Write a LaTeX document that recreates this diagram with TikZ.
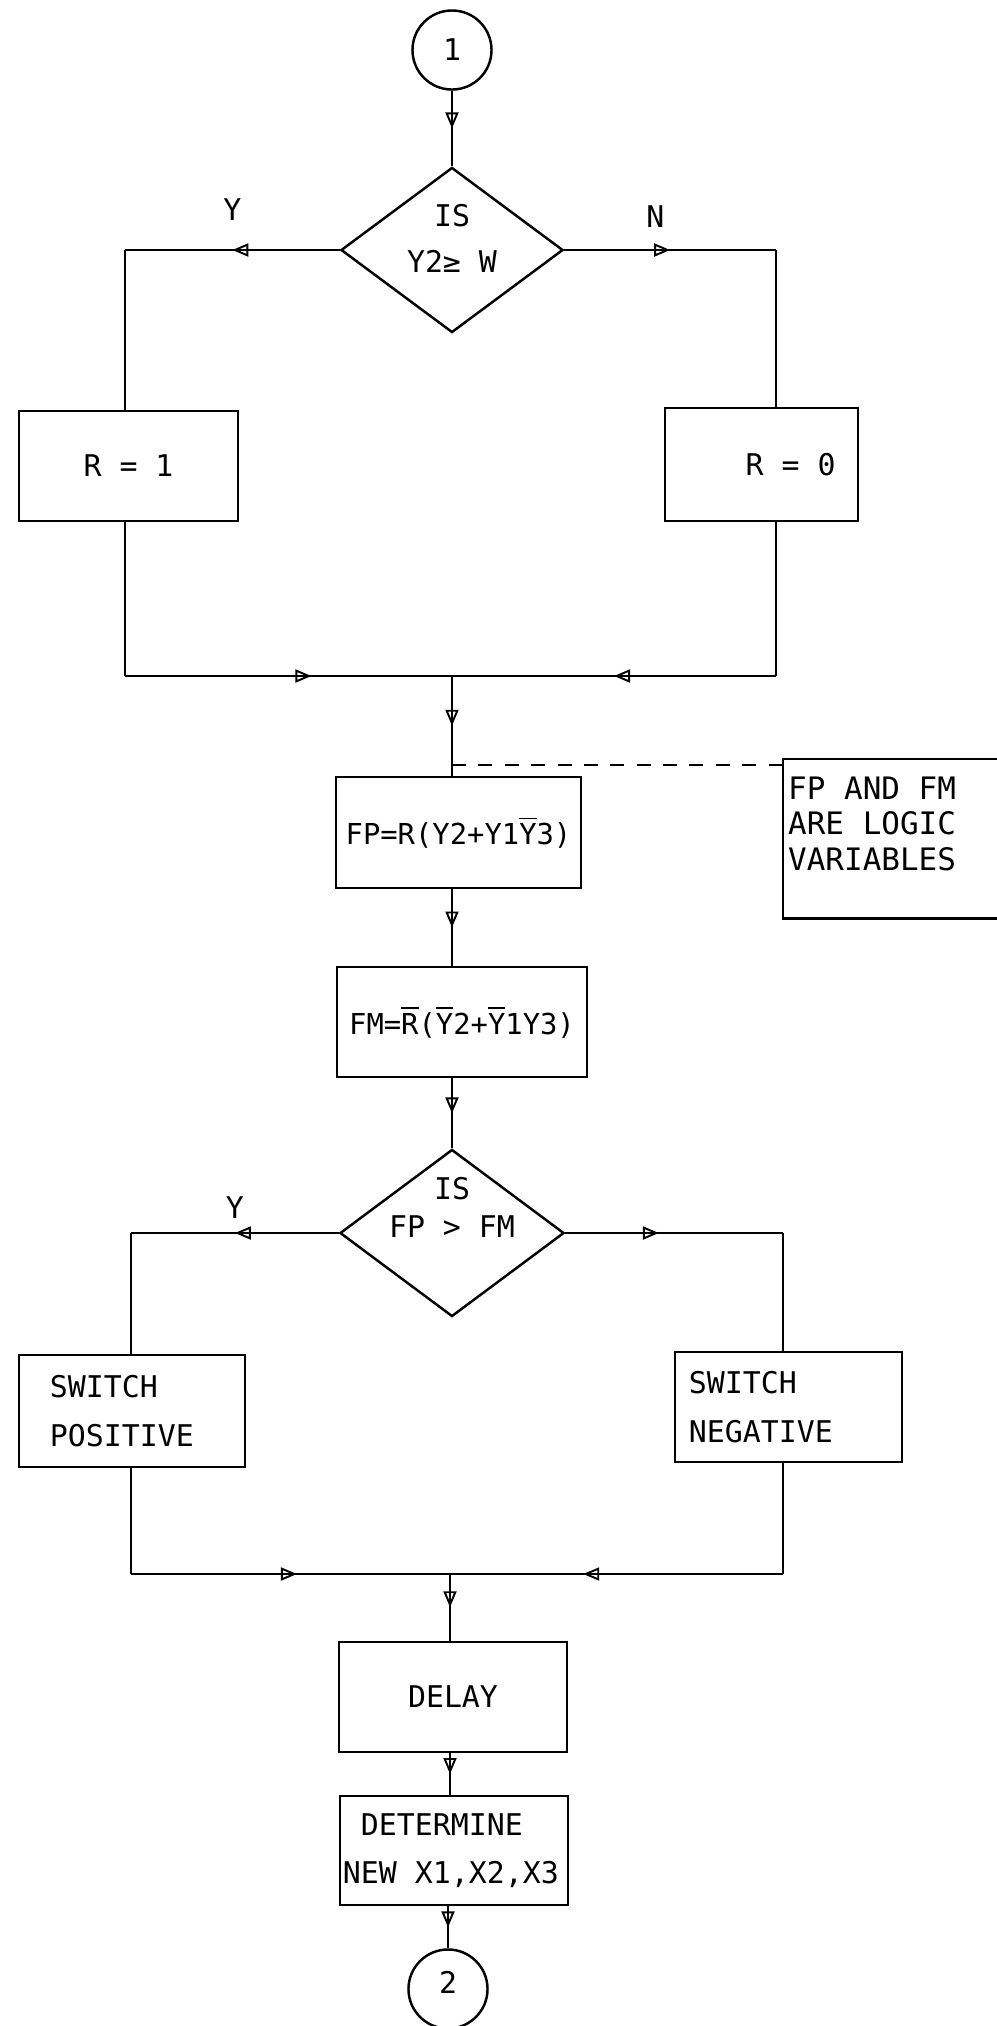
\documentclass[tikz,border=0pt]{standalone}
\usepackage{fontspec}
\setmonofont{DejaVu Sans Mono}
\usetikzlibrary{arrows.meta, positioning, shapes.geometric, decorations.markings}
\newcommand{\chartfont}{\ttfamily\fontsize{8.5}{13.8}\selectfont}
\newcommand{\formulafont}{\ttfamily\fontsize{8.2}{10}\selectfont}
\newcommand{\notefont}{\ttfamily\fontsize{8.8}{10.2}\selectfont}
\newcommand{\ovl}[1]{$\overline{\mbox{#1}}$}
\newcommand{\inset}[2]{\makebox[0pt]{\raisebox{#1}[0pt][0pt]{\begin{tabular}{@{}c@{}}#2\end{tabular}}}}

\begin{document}
\begin{tikzpicture}[x=0.01cm, y=-0.01cm,
    box/.style={draw, line width=0.8pt, inner ysep=0pt, font=\chartfont, execute at begin node={\spaceskip=0pt\xspaceskip=0pt}},
    decision/.style={draw, diamond, line width=0.7pt, inner sep=0pt, minimum width=2.22cm, minimum height=1.65cm, font=\chartfont},
    connector/.style={draw, circle, line width=0.7pt, inner sep=0pt, minimum size=0.79cm, font=\chartfont},
    wire/.style={line width=0.55pt},
    arr/.style={wire, postaction={decorate}, decoration={markings, mark=at position #1 with {\arrow{Triangle[open, length=1.6mm, width=1.3mm, line width=0.55pt]}}}},
    arr/.default=0.5,
    lbl/.style={font=\chartfont, inner sep=1pt},
]
\useasboundingbox (0,0) rectangle (996,2026);

% first decision
\node[connector] (start) at (452,50) {1};
\node[decision] (q1) at (452,250) {\inset{0.3mm}{IS\\[-0.7pt]Y2≥ W}};
\node[box, minimum width=2.19cm, minimum height=1.10cm] (yes1) at (128.5,466) {R = 1};
\node[box, minimum width=1.93cm, minimum height=1.13cm] (no1) at (761.5,464.5) {\hspace*{0.58cm}R = 0};

\coordinate (c1l) at (125,250);
\coordinate (c1r) at (776,250);
\coordinate (m1) at (452,676);
\coordinate (tap) at (452,765);

% logic variables
\node[box, minimum width=2.45cm, minimum height=1.11cm, inner xsep=0pt, font=\formulafont] (fp) at (458.5,832.5) {FP=R(Y2+Y1\ovl{Y}3)};
\node[box, minimum width=2.50cm, minimum height=1.10cm, inner xsep=0pt, font=\formulafont] (fm) at (462,1022) {FM=\ovl{R}(\ovl{Y}2+\ovl{Y}1Y3)};
\node[box, line width=0.7pt, anchor=north west, minimum width=3cm, minimum height=1.59cm, text width=2.9cm, text depth=29pt, inner xsep=0.05cm, align=left, font=\notefont] (note) at (782,758) {FP AND FM\\ARE LOGIC\\VARIABLES};

% second decision
\node[decision, minimum width=2.24cm, minimum height=1.67cm] (q2) at (452,1233) {\inset{1.7mm}{IS\\[-3pt]FP > FM}};
\node[box, minimum width=2.26cm, minimum height=1.12cm, text width=1.64cm, inner xsep=0.31cm, align=left] (pos) at (132,1411) {SWITCH\\POSITIVE};
\node[box, minimum width=2.27cm, minimum height=1.10cm, text width=1.99cm, inner xsep=0.14cm, align=left] (neg) at (788.5,1407) {SWITCH\\NEGATIVE};

\coordinate (c2l) at (131,1233);
\coordinate (c2r) at (783,1233);
\coordinate (m2) at (450,1574);

\node[box, minimum width=2.28cm, minimum height=1.10cm] (delay) at (453,1697) {DELAY};
\node[box, minimum width=2.28cm, minimum height=1.09cm, text width=2.22cm, inner xsep=0.03cm, align=left] (det) at (454,1850.5) {\phantom{N}DETERMINE\\NEW X1,X2,X3};
\node[connector] (stop) at (448,1989) {\raisebox{1.3mm}{2}};

\draw[arr] (start) -- (q1);
\draw[arr] (q1.west) -- node[lbl, above=2.55mm] (ylab1) {Y} (c1l);
\draw[arr] (q1.east) -- node[lbl, pos=0.43, above=1.85mm] (nlab1) {N} (c1r);
\draw[wire] (c1l) -- (c1l |- yes1.north);
\draw[wire] (c1r) -- (c1r |- no1.north);
\draw[wire] (c1l |- yes1.south) -- (c1l |- m1);
\draw[wire] (c1r |- no1.south) -- (c1r |- m1);
\draw[arr=0.57] (c1l |- m1) -- (m1);
\draw[arr=0.5] (c1r |- m1) -- (m1);
\draw[arr] (m1) -- (m1 |- fp.north);
\draw[wire, dash pattern=on 4pt off 3.5pt] (tap) -- (tap -| note.west);
\draw[arr] (m1 |- fp.south) -- (m1 |- fm.north);
\draw[arr] (m1 |- fm.south) -- (q2);

\draw[arr] (q2.west) -- node[lbl, above=1.05mm] (ylab2) {Y} (c2l);
\draw[arr=0.43] (q2.east) -- (c2r);
\draw[wire] (c2l) -- (c2l |- pos.north);
\draw[wire] (c2r) -- (c2r |- neg.north);
\draw[wire] (c2l |- pos.south) -- (c2l |- m2);
\draw[wire] (c2r |- neg.south) -- (c2r |- m2);
\draw[arr=0.52] (c2l |- m2) -- (m2);
\draw[arr=0.6] (c2r |- m2) -- (m2);
\draw[arr] (m2) -- (m2 |- delay.north);
\draw[arr] (m2 |- delay.south) -- (m2 |- det.north);
\draw[arr] (stop |- det.south) -- (stop);
\end{tikzpicture}
\end{document}
